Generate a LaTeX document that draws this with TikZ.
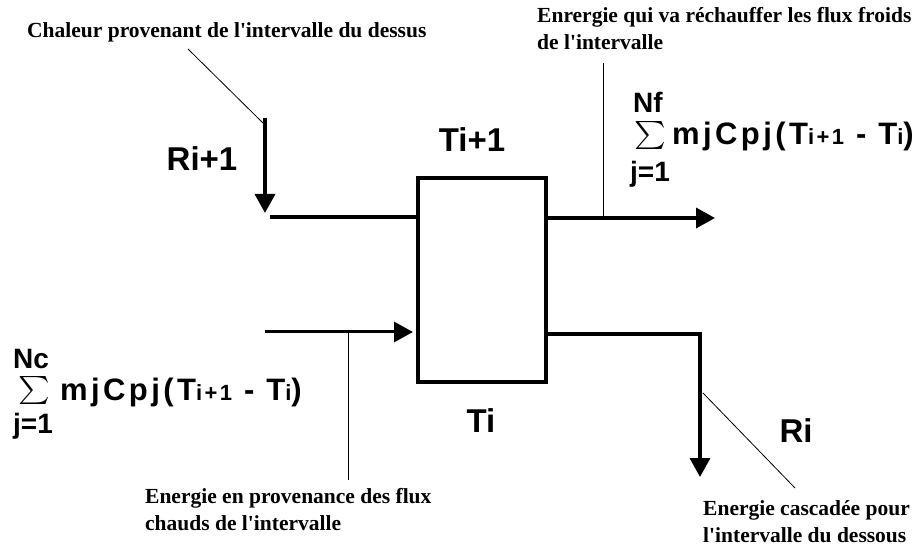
\documentclass[tikz,border=0pt]{standalone}
\usepackage{fontspec}
\usepackage{graphicx}
\setmainfont{Liberation Serif}
\setsansfont{Liberation Sans}
\newfontfamily\formfont{Liberation Sans}[LetterSpace=11]
\usetikzlibrary{arrows.meta,positioning}
\newcommand{\notefont}{\fontsize{21.5}{27}\selectfont\bfseries}
\newcommand{\grandfont}{\fontsize{33}{33}\selectfont\sffamily\bfseries}
\newcommand{\bornefont}{\fontsize{28}{28}\selectfont\sffamily\bfseries}
\newcommand{\petit}[1]{{\fontsize{22}{22}\selectfont #1}}
\newcommand{\apos}{\textquotesingle}
\newcommand{\grandsigma}{\smash{\scalebox{3.0}[2.8]{$\sum$}}}

\begin{document}
\begin{tikzpicture}[
      x=1pt, y=-1pt,
      bloc/.style={
        draw,
        line width=4pt,
        inner sep=0pt,
        minimum width=128pt,
        minimum height=203pt
      },
      flux/.style={-{Triangle[length=19pt,width=20pt]}, line width=3.5pt},
      trait/.style={line width=3.5pt},
      renvoi/.style={line width=0.8pt},
      note/.style={font=\notefont, inner sep=0pt, anchor=base west, align=left},
      grand/.style={font=\grandfont, inner sep=0pt, anchor=base},
      borne/.style={font=\bornefont, inner sep=0pt, anchor=base west},
      somme/.style={inner sep=0pt, anchor=base west},
      formule/.style={font=\fontsize{31}{31}\selectfont\formfont\bfseries, inner sep=0pt, anchor=base west}
    ]
      \useasboundingbox (0,0) rectangle (924,545);
      % intervalle
      \node[bloc] (bloc) at (482,280) {};
      \node[grand] (thaut) at (472,152) {Ti+1};
      \node[grand] (tbas) at (481,432) {Ti};
      % chaleur venant du dessus
      \coordinate (rh1) at (265,118);
      \coordinate (rh2) at (265,213);
      \coordinate (gh) at (270,217);
      \draw[flux] (rh1) -- (rh2);
      \draw[trait] (gh) -- (gh -| bloc.west);
      \node[grand] (rhaut) at (202,171) {Ri+1};
      \node[note] (chaleur) at (27,38) {Chaleur provenant de l\apos intervalle du dessus};
      \coordinate (ch1) at (188,49);
      \coordinate (ch2) at (263,123);
      \draw[renvoi] (ch1) -- (ch2);
      % flux froids
      \coordinate (sf) at (715,218);
      \draw[flux] (sf -| bloc.east) -- (sf);
      \node[note] (froids) at (537,50) {Enrergie qui va r\'echauffer les flux froids\\de l\apos intervalle};
      \coordinate (fr1) at (603,63);
      \coordinate (fr2) at (603,218);
      \draw[renvoi] (fr1) -- (fr2);
      \node[borne] (nf) at (633,113) {Nf};
      \node[somme] (sigf) at (634,143) {\grandsigma};
      \node[formule] (formf) at (672,145) {mjCpj(T\petit{i+1} - T\petit{i})};
      \node[borne] (jf) at (630,182) {j=1};
      % flux chauds
      \coordinate (ec) at (265,332);
      \draw[flux, line width=3pt, shorten >=3pt] (ec) -- (ec -| bloc.west);
      \node[note] (chauds) at (145,530) {Energie en provenance des flux\\chauds de l\apos intervalle};
      \coordinate (cd1) at (348,332);
      \coordinate (cd2) at (348,480);
      \draw[renvoi] (cd1) -- (cd2);
      \node[borne] (nc) at (13,368) {Nc};
      \node[somme] (sigc) at (18,397) {\grandsigma};
      \node[formule] (formc) at (60,400) {mjCpj(T\petit{i+1} - T\petit{i})};
      \node[borne] (jc) at (13,433) {j=1};
      % energie cascadee
      \coordinate (cb1) at (700,334);
      \coordinate (cb2) at (700,477);
      \draw[flux] (cb1 -| bloc.east) -- (cb1) -- (cb2);
      \node[grand] (rbas) at (796,442) {Ri};
      \node[note] (cascade) at (703,542) {Energie cascad\'ee pour\\l\apos intervalle du dessous};
      \coordinate (ca1) at (703,393);
      \coordinate (ca2) at (795,488);
      \draw[renvoi] (ca1) -- (ca2);
    \end{tikzpicture}
\end{document}
